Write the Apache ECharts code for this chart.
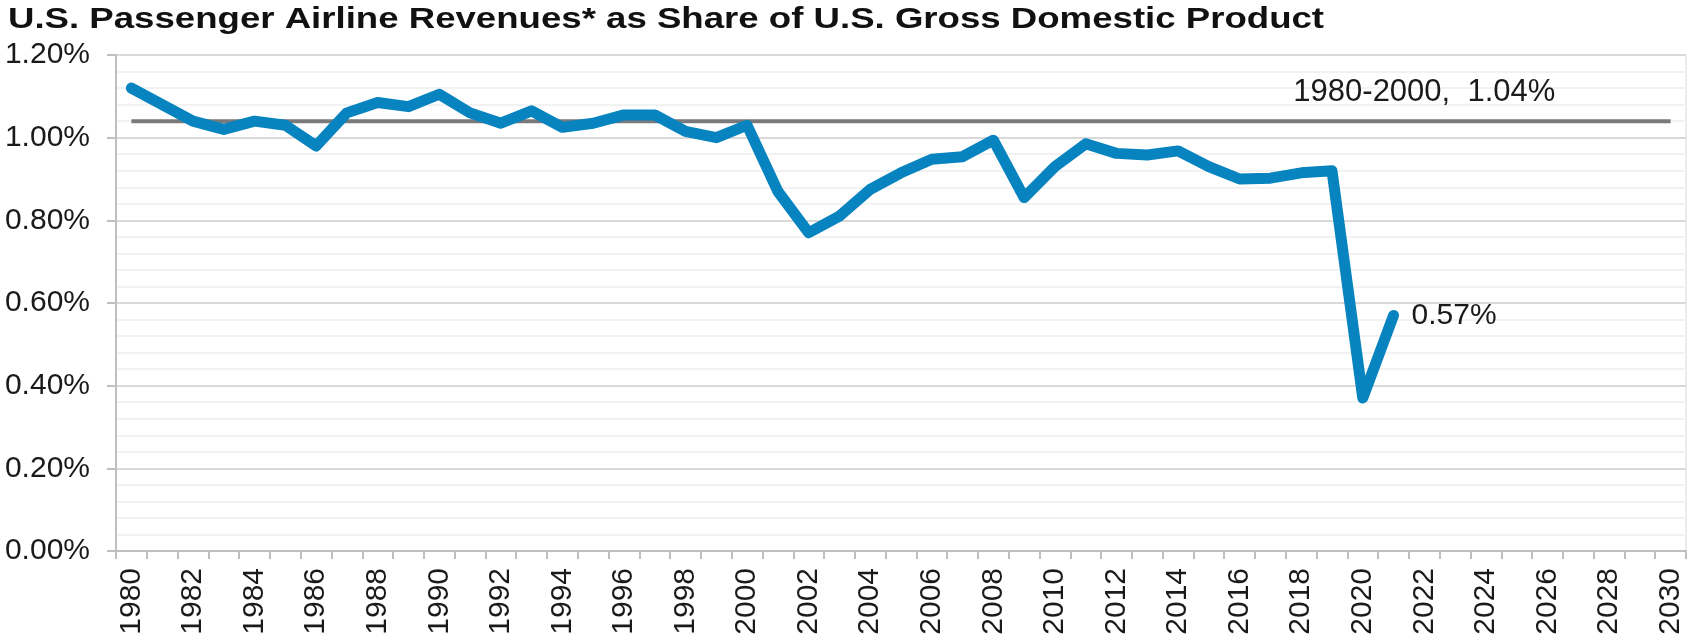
<!DOCTYPE html>
<html>
<head>
<meta charset="utf-8">
<title>Airline revenues share of GDP</title>
<script src="https://cdn.jsdelivr.net/npm/echarts@6/dist/echarts.min.js"></script>
<style>
    html, body { margin: 0; padding: 0; background: #fff; }
    #chart { width: 1688px; height: 638px; }
</style>
</head>
<body>
<div id="chart"></div>
<script>
// x axis runs 1980..2030, data stops at 2021
var years = [];
for (var y = 1980; y <= 2030; y++) years.push(String(y));

// revenue share of GDP, percent, 1980..2021
var shareValues = [
    1.12, 1.08, 1.04, 1.02, 1.04, 1.03, 0.98, 1.06, 1.085, 1.075,
    1.105, 1.06, 1.035, 1.065, 1.025, 1.035, 1.055, 1.055, 1.015, 1.0,
    1.03, 0.87, 0.77, 0.81, 0.875, 0.915, 0.948, 0.954, 0.994, 0.855,
    0.93, 0.985, 0.962, 0.958, 0.968, 0.93, 0.9, 0.902, 0.915, 0.92,
    0.37, 0.57
];

// 1980-2000 average, drawn across the whole axis
var avgValue = 1.04;
var avgLabelYear = '2022';

var yTicks = [0, 0.2, 0.4, 0.6, 0.8, 1.0, 1.2];

var titleText = 'U.S. Passenger Airline Revenues* as Share of U.S. Gross Domestic Product';

var myChart = echarts.init(document.getElementById('chart'));

var avgData = years.map(function (yr) {
    if (yr === avgLabelYear) {
        return {
            value: avgValue,
            label: {
                show: true,
                position: 'top',
                distance: 13,
                formatter: '1980-2000,  ' + avgValue.toFixed(2) + '%',
                fontSize: 31,
                color: '#1a1a1a',
                fontFamily: 'Liberation Sans'
            }
        };
    }
    return avgValue;
});

myChart.setOption({
    animation: false,
    // title drawn as graphic text so it can be widened like the source
    graphic: [{
        type: 'text',
        left: 8,
        top: 5,
        scaleX: 1.22,
        style: {
            text: titleText,
            font: 'bold 30px "Liberation Sans"',
            fill: '#111'
        }
    }],
    grid: {
        left: 116,
        right: 2,
        top: 55,
        bottom: 87,
        show: true,
        borderColor: '#d9d9d9',
        borderWidth: 1
    },
    xAxis: {
        type: 'category',
        data: years,
        boundaryGap: true,
        axisLine: { show: true, lineStyle: { color: '#bfbfbf', width: 2 } },
        axisTick: { show: true, interval: 0, length: 8, lineStyle: { color: '#bfbfbf', width: 2 } },
        axisLabel: {
            interval: 1,
            rotate: 90,
            margin: 17,
            fontSize: 30,
            color: '#1a1a1a',
            fontFamily: 'Liberation Sans'
        },
        splitLine: { show: false }
    },
    yAxis: {
        type: 'value',
        min: yTicks[0],
        max: yTicks[yTicks.length - 1],
        interval: yTicks[1] - yTicks[0],
        axisLine: { show: true, lineStyle: { color: '#bfbfbf', width: 2 } },
        axisTick: { show: true, length: 9, lineStyle: { color: '#bfbfbf', width: 2 } },
        axisLabel: {
            margin: 26,
            fontSize: 30,
            color: '#1a1a1a',
            fontFamily: 'Liberation Sans',
            formatter: function (v) { return v.toFixed(2) + '%'; }
        },
        splitLine: { show: true, lineStyle: { color: '#d9d9d9', width: 2 } },
        minorTick: { show: false, splitNumber: 5 },
        minorSplitLine: { show: true, lineStyle: { color: '#f2f2f2', width: 2 } }
    },
    series: [
        {
            name: 'avg',
            type: 'line',
            data: avgData,
            showSymbol: true,
            symbol: 'circle',
            symbolSize: 0,
            lineStyle: { color: '#7a7a7a', width: 4 },
            z: 2
        },
        {
            name: 'share',
            type: 'line',
            data: shareValues,
            showSymbol: false,
            symbol: 'none',
            lineStyle: { color: '#0784bf', width: 11, cap: 'round', join: 'round' },
            endLabel: {
                show: true,
                distance: 18,
                fontSize: 30,
                color: '#1a1a1a',
                fontFamily: 'Liberation Sans',
                formatter: function (p) { return p.value.toFixed(2) + '%'; }
            },
            z: 3
        }
    ]
});
</script>
</body>
</html>
